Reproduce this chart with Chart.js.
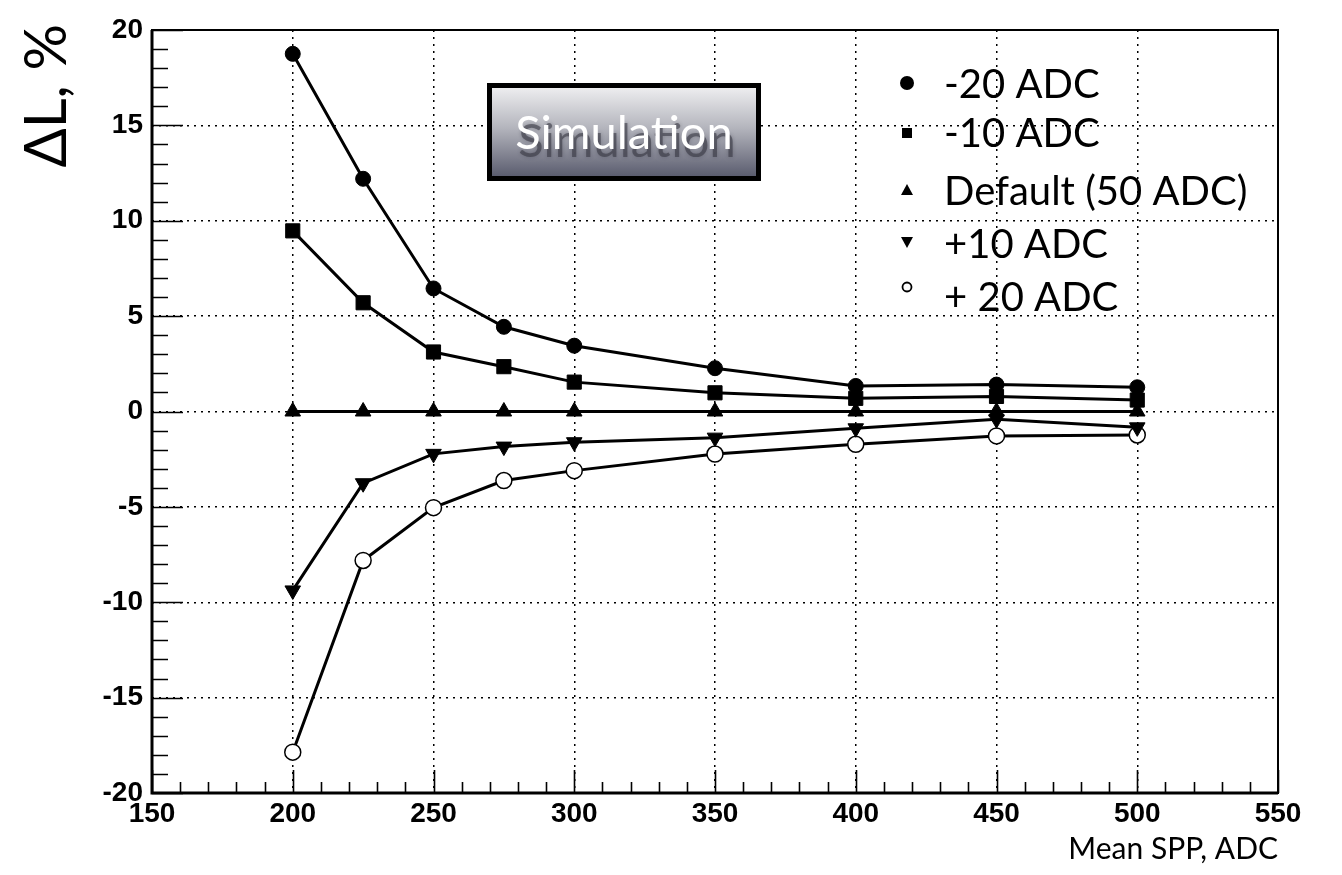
<!DOCTYPE html>
<html>
<head>
<meta charset="utf-8">
<script src="https://cdn.jsdelivr.net/npm/chart.js"></script>
<style>
  body { margin: 0; background: #fff; }
  #wrap { width: 1342px; height: 875px; }
</style>
</head>
<body>
<div id="wrap"><canvas id="myChart" width="1342" height="875"></canvas></div>
<script>
// mean SPP values (x) and relative change of L (%) per threshold setting
const spp = [200, 225, 250, 275, 300, 350, 400, 450, 500];
const minus20 = [18.75, 12.2, 6.45, 4.44, 3.45, 2.27, 1.34, 1.41, 1.27];
const minus10 = [9.47, 5.7, 3.12, 2.35, 1.54, 0.98, 0.69, 0.79, 0.6];
const defaultThr = [0, 0, 0, 0, 0, 0, 0, 0, 0];
const plus10 = [-9.38, -3.76, -2.22, -1.84, -1.61, -1.37, -0.88, -0.41, -0.83];
const plus20 = [-17.86, -7.81, -5.04, -3.62, -3.1, -2.23, -1.72, -1.28, -1.23];

const seriesLabels = ['-20 ADC', '-10 ADC', 'Default (50 ADC)', '+10 ADC', '+ 20 ADC'];

const xTicks = [150, 200, 250, 300, 350, 400, 450, 500, 550];
const yTicks = [-20, -15, -10, -5, 0, 5, 10, 15, 20];

const toPoints = vals => vals.map((v, i) => ({ x: spp[i], y: v }));

const GILL = 'Lato, "Open Sans", sans-serif';
const TICKFONT = { family: '"Liberation Sans", Arial, sans-serif', weight: 'bold', size: 28 };

function ds(label, vals, style, radius, extra) {
  return Object.assign({
    label: label,
    data: toPoints(vals),
    borderColor: '#000',
    backgroundColor: '#000',
    borderWidth: 3,
    pointStyle: style,
    pointRadius: radius,
    pointBackgroundColor: '#000',
    pointBorderColor: '#000',
    pointBorderWidth: 1,
    tension: 0
  }, extra || {});
}

// frame, inward ticks, legend, text box, axis titles
const rootStyle = {
  id: 'rootStyle',
  afterDraw(chart) {
    const ctx = chart.ctx;
    const a = chart.chartArea;
    const xs = chart.scales.x, ys = chart.scales.y;
    ctx.save();

    // inward ticks
    ctx.strokeStyle = '#000';
    ctx.lineWidth = 1.6;
    ctx.beginPath();
    for (let v = -20; v <= 20; v += 1) {
      const y = Math.round(ys.getPixelForValue(v)) + 0.5;
      const len = v % 5 === 0 ? 31 : 16;
      ctx.moveTo(a.left, y); ctx.lineTo(a.left + len, y);
    }
    for (let v = 150; v <= 550; v += 10) {
      const x = Math.round(xs.getPixelForValue(v)) + 0.5;
      const len = v % 50 === 0 ? 23 : 11;
      ctx.moveTo(x, a.bottom); ctx.lineTo(x, a.bottom - len);
    }
    ctx.stroke();

    // frame
    ctx.lineWidth = 2;
    ctx.strokeRect(a.left, a.top, a.right - a.left, a.bottom - a.top);
    ctx.lineWidth = 3;
    ctx.beginPath();
    ctx.moveTo(a.left, a.top); ctx.lineTo(a.left, a.bottom); ctx.lineTo(a.right, a.bottom);
    ctx.stroke();

    // Simulation box
    const bx = 487, by = 83, bw = 274, bh = 98;
    ctx.fillStyle = '#000';
    ctx.fillRect(bx, by, bw, bh);
    const g = ctx.createLinearGradient(0, by + 5, 0, by + bh - 5);
    g.addColorStop(0, '#ededef');
    g.addColorStop(0.45, '#b4b5bd');
    g.addColorStop(1, '#5b5d6f');
    ctx.fillStyle = g;
    ctx.fillRect(bx + 5, by + 5, bw - 10, bh - 10);
    ctx.font = '47px ' + GILL;
    ctx.textAlign = 'center';
    ctx.textBaseline = 'middle';
    ctx.fillStyle = 'rgba(50,50,60,0.55)';
    ctx.shadowColor = 'rgba(50,50,60,0.6)';
    ctx.shadowBlur = 4;
    ctx.fillText('Simulation', bx + bw / 2 + 3, by + bh / 2 + 10);
    ctx.shadowBlur = 0;
    ctx.fillStyle = '#fff';
    ctx.fillText('Simulation', bx + bw / 2, by + bh / 2 + 2);

    // legend
    const rows = [83, 132, 190, 243, 296];
    const sx = 907;
    ctx.fillStyle = '#000';
    ctx.strokeStyle = '#000';
    ctx.font = '40px ' + GILL;
    ctx.textAlign = 'left';
    ctx.textBaseline = 'middle';
    seriesLabels.forEach((lab, i) => {
      const y = rows[i];
      ctx.beginPath();
      if (i === 0) {
        ctx.arc(sx, y, 7, 0, Math.PI * 2); ctx.fill();
      } else if (i === 1) {
        ctx.fillRect(sx - 5, y - 4, 10, 10);
      } else if (i === 2) {
        ctx.moveTo(sx - 6, y + 5); ctx.lineTo(sx + 6, y + 5); ctx.lineTo(sx, y - 6); ctx.closePath(); ctx.fill();
      } else if (i === 3) {
        ctx.moveTo(sx - 6, y - 6); ctx.lineTo(sx + 6, y - 6); ctx.lineTo(sx, y + 5); ctx.closePath(); ctx.fill();
      } else {
        ctx.lineWidth = 1.8;
        ctx.arc(sx, y - 9, 4.5, 0, Math.PI * 2); ctx.stroke();
      }
      ctx.fillText(lab, 944, y + 2);
    });

    // axis titles
    ctx.font = '30px ' + GILL;
    ctx.textAlign = 'right';
    ctx.textBaseline = 'alphabetic';
    ctx.fillText('Mean SPP, ADC', a.right, 859);

    ctx.translate(66, 24);
    ctx.rotate(-Math.PI / 2);
    ctx.font = '58px ' + GILL;
    ctx.textAlign = 'right';
    ctx.fillText('\u0394L, %', 0, 0);

    ctx.restore();
  }
};

const ctx = document.getElementById('myChart');

const config = {
  type: 'line',
  data: {
    datasets: [
      ds(seriesLabels[0], minus20, 'circle', 7.5),
      ds(seriesLabels[1], minus10, 'rect', 10),
      ds(seriesLabels[2], defaultThr, 'triangle', 9),
      ds(seriesLabels[3], plus10, 'triangle', 9, { pointRotation: 180 }),
      ds(seriesLabels[4], plus20, 'circle', 8, { pointBackgroundColor: '#fff', pointBorderWidth: 1.5 })
    ]
  },
  options: {
    responsive: false,
    animation: false,
    layout: { padding: { top: 30, right: 64, left: 0, bottom: 0 } },
    plugins: { legend: { display: false }, tooltip: { enabled: false } },
    scales: {
      x: {
        type: 'linear',
        min: 150, max: 550,
        afterBuildTicks: s => { s.ticks = xTicks.map(v => ({ value: v })); },
        afterFit: s => { s.height = 82; },
        border: { display: false, dash: [2, 5] },
        grid: { color: '#000', lineWidth: 1.5, drawTicks: false },
        ticks: { color: '#000', padding: 4, maxRotation: 0, font: TICKFONT }
      },
      y: {
        min: -20, max: 20,
        afterBuildTicks: s => { s.ticks = yTicks.map(v => ({ value: v })); },
        afterFit: s => { s.width = 152; },
        border: { display: false, dash: [2, 5] },
        grid: { color: '#000', lineWidth: 1.5, drawTicks: false },
        ticks: { color: '#000', padding: 9, font: TICKFONT }
      }
    }
  },
  plugins: [rootStyle]
};

new Chart(ctx, config);
</script>
</body>
</html>
